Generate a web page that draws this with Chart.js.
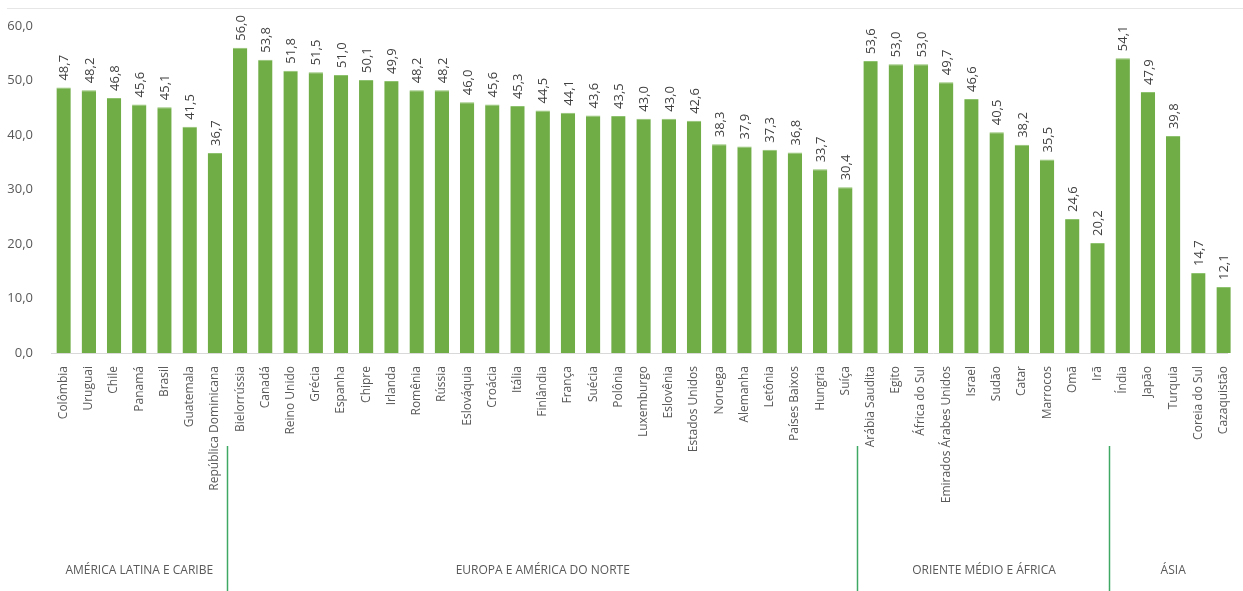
<!DOCTYPE html>
<html lang="pt-BR">
<head>
<meta charset="utf-8">
<script src="https://cdn.jsdelivr.net/npm/chart.js@4"></script>
<style>
    html, body { margin: 0; padding: 0; overflow: hidden; background: #fff; }
    canvas { display: block; }
</style>
</head>
<body>
<canvas id="chart" width="1243" height="591"></canvas>
<script>
// =======================
// DADOS
// =======================
const paises = [
    "Colômbia", "Uruguai", "Chile", "Panamá", "Brasil", "Guatemala", "República Dominicana",
    "Bielorrússia", "Canadá", "Reino Unido", "Grécia", "Espanha", "Chipre", "Irlanda",
    "Romênia", "Rússia", "Eslováquia", "Croácia", "Itália", "Finlândia", "França", "Suécia",
    "Polônia", "Luxemburgo", "Eslovênia", "Estados Unidos", "Noruega", "Alemanha", "Letônia",
    "Países Baixos", "Hungria", "Suíça",
    "Arábia Saudita", "Egito", "África do Sul", "Emirados Árabes Unidos", "Israel", "Sudão",
    "Catar", "Marrocos", "Omã", "Irã",
    "Índia", "Japão", "Turquia", "Coreia do Sul", "Cazaquistão"
];

const valores = [
    48.7, 48.2, 46.8, 45.6, 45.1, 41.5, 36.7,
    56.0, 53.8, 51.8, 51.5, 51.0, 50.1, 49.9,
    48.2, 48.2, 46.0, 45.6, 45.3, 44.5, 44.1, 43.6,
    43.5, 43.0, 43.0, 42.6, 38.3, 37.9, 37.3,
    36.8, 33.7, 30.4,
    53.6, 53.0, 53.0, 49.7, 46.6, 40.5,
    38.2, 35.5, 24.6, 20.2,
    54.1, 47.9, 39.8, 14.7, 12.1
];

const regioes = ["AMÉRICA LATINA E CARIBE", "EUROPA E AMÉRICA DO NORTE", "ORIENTE MÉDIO E ÁFRICA", "ÁSIA"];
const paisesPorRegiao = [7, 25, 10, 5];

const yTicks = [0, 10, 20, 30, 40, 50, 60];

const fmt = v => v.toFixed(1).replace(".", ",");
const FONTE = '"Open Sans", "DejaVu Sans", sans-serif';

// eixo x numérico: a última coluna fica cortada pela borda direita
const X_MIN = -0.5;
const X_MAX = 46.16;

// =======================
// RÓTULOS DE VALOR
// =======================
const rotuloValores = {
    id: "rotuloValores",
    afterDatasetsDraw(chart) {
        const ctx = chart.ctx;
        const meta = chart.getDatasetMeta(0);
        ctx.save();
        ctx.font = "13px " + FONTE;
        ctx.fillStyle = "#404040";
        ctx.textAlign = "left";
        ctx.textBaseline = "middle";
        meta.data.forEach((bar, i) => {
            ctx.save();
            ctx.translate(bar.x + 1, bar.y - 7);
            ctx.rotate(-Math.PI / 2);
            ctx.fillText(fmt(valores[i]), 0, 0);
            ctx.restore();
        });
        ctx.restore();
    }
};

// =======================
// REGIÕES E SEPARADORES
// =======================
const regioesPlugin = {
    id: "regioesPlugin",
    beforeDraw(chart) {
        const ctx = chart.ctx;
        ctx.save();
        ctx.strokeStyle = "#e6e6e6";
        ctx.lineWidth = 1;
        ctx.beginPath();
        ctx.moveTo(7, 8.5);
        ctx.lineTo(chart.width, 8.5);
        ctx.stroke();
        ctx.restore();
    },
    afterDraw(chart) {
        const ctx = chart.ctx;
        const xs = chart.scales.x;
        let inicio = 0;

        ctx.save();
        ctx.font = "12px " + FONTE;
        ctx.fillStyle = "#595959";
        ctx.textAlign = "center";
        ctx.textBaseline = "middle";

        paisesPorRegiao.forEach((n, k) => {
            const esq = xs.getPixelForValue(inicio - 0.5);
            const dir = xs.getPixelForValue(inicio + n - 0.5);
            ctx.fillText(regioes[k], (esq + dir) / 2, 571);

            if (k > 0) {
                const x = Math.round(esq) - 0.5;
                ctx.strokeStyle = "#3fa862";
                ctx.lineWidth = 1.5;
                ctx.beginPath();
                ctx.moveTo(x, 446);
                ctx.lineTo(x, 591);
                ctx.stroke();
            }
            inicio += n;
        });
        ctx.restore();
    }
};

// =======================
// GRÁFICO
// =======================
const ctx = document.getElementById("chart").getContext("2d");

new Chart(ctx, {
    type: "bar",
    data: {
        datasets: [{
            data: valores.map((v, i) => ({ x: i, y: v })),
            backgroundColor: "#70ad47",
            borderColor: "#8fc26e",
            borderWidth: { top: 1, left: 0, right: 0, bottom: 0 },
            borderSkipped: "bottom",
            categoryPercentage: 1.0,
            barPercentage: 0.57,
            clip: false
        }]
    },
    options: {
        responsive: false,
        animation: false,
        layout: {
            autoPadding: false,
            padding: { top: 26, right: 0, left: 0, bottom: 0 }
        },
        plugins: {
            legend: { display: false },
            tooltip: { enabled: false }
        },
        scales: {
            x: {
                type: "linear",
                min: X_MIN,
                max: X_MAX,
                offset: false,
                afterFit(scale) { scale.height = 238; },
                afterBuildTicks(scale) {
                    scale.ticks = paises.map((_, i) => ({ value: i }));
                },
                grid: { display: false },
                border: { display: true, color: "#d9d9d9", width: 1 },
                ticks: {
                    autoSkip: false,
                    minRotation: 90,
                    maxRotation: 90,
                    padding: 5,
                    color: "#595959",
                    font: { family: FONTE, size: 12 },
                    callback: v => paises[v]
                }
            },
            y: {
                min: 0,
                max: 60,
                afterFit(scale) { scale.width = 51; },
                afterBuildTicks(scale) {
                    scale.ticks = yTicks.map(v => ({ value: v }));
                },
                grid: { display: false },
                border: { display: false },
                ticks: {
                    padding: 10,
                    color: "#595959",
                    font: { family: FONTE, size: 13 },
                    callback: v => fmt(v)
                }
            }
        }
    },
    plugins: [rotuloValores, regioesPlugin]
});
</script>
</body>
</html>
